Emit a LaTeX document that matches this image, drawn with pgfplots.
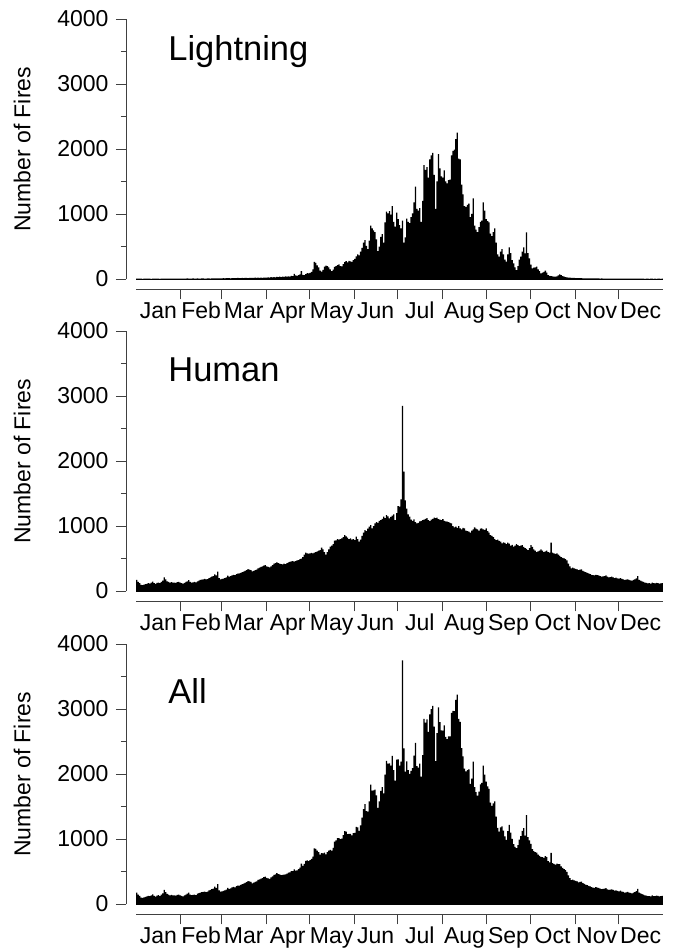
\documentclass[border=0pt]{standalone}
\usepackage{pgfplots}
\pgfplotsset{compat=1.18}
\usepackage{pgfplotstable}
\usepackage{fontspec}
\setmainfont{Liberation Sans}

\pgfplotstableread{
d L H A
1 5 170 175
2 4 140 144
3 6 120 126
4 5 95 100
5 3 90 93
6 4 100 104
7 5 105 110
8 6 110 116
9 4 120 124
10 5 115 120
11 3 130 133
12 4 145 149
13 6 120 126
14 5 110 115
15 4 125 129
16 5 130 135
17 3 120 123
18 4 140 144
19 5 160 165
20 6 210 216
21 4 180 184
22 5 150 155
23 5 140 145
24 4 130 134
25 6 135 141
26 5 128 133
27 4 130 134
28 5 125 130
29 6 135 141
30 5 140 145
31 4 130 134
32 6 120 126
33 5 113 118
34 7 125 132
35 6 140 146
36 8 150 158
37 5 169 174
38 6 140 146
39 7 130 137
40 9 133 142
41 6 140 146
42 5 133 138
43 8 150 158
44 7 160 167
45 6 170 176
46 9 175 184
47 8 180 188
48 7 185 192
49 6 178 184
50 10 182 192
51 8 200 208
52 7 210 217
53 9 220 229
54 8 230 238
55 10 256 266
56 9 240 249
57 8 297 305
58 11 200 211
59 9 180 189
60 10 185 195
61 12 190 202
62 11 200 211
63 13 210 223
64 12 235 247
65 14 220 234
66 11 230 241
67 15 240 255
68 13 250 263
69 12 245 257
70 14 260 274
71 16 266 282
72 13 270 283
73 15 280 295
74 17 290 307
75 14 300 314
76 16 310 326
77 18 320 338
78 15 338 353
79 17 330 347
80 19 320 339
81 16 302 318
82 18 310 328
83 20 320 340
84 17 330 347
85 22 350 372
86 19 360 379
87 21 370 391
88 18 380 398
89 23 390 413
90 20 400 420
91 22 380 402
92 25 370 395
93 21 364 385
94 28 380 408
95 24 400 424
96 30 420 450
97 26 430 456
98 33 441 474
99 28 430 458
100 35 420 455
101 30 415 445
102 38 410 448
103 32 420 452
104 40 415 455
105 36 430 466
106 42 440 482
107 38 450 488
108 50 455 505
109 45 460 505
110 80 451 531
111 55 460 515
112 48 470 518
113 60 477 537
114 70 490 560
115 120 500 620
116 65 520 585
117 58 560 618
118 75 589 664
119 90 580 670
120 85 575 660
121 95 579 674
122 110 585 695
123 150 580 730
124 265 590 855
125 250 600 850
126 210 610 820
127 180 620 800
128 130 630 760
129 115 666 781
130 140 640 780
131 190 600 790
132 205 559 764
133 200 600 800
134 180 640 820
135 150 682 832
136 120 700 820
137 145 720 865
138 185 774 959
139 200 780 980
140 215 800 1015
141 225 790 1015
142 200 800 1000
143 195 810 1005
144 230 830 1060
145 260 861 1121
146 275 840 1115
147 255 820 1075
148 280 800 1080
149 270 810 1080
150 265 790 1055
151 290 800 1090
152 310 784 1094
153 350 836 1186
154 380 800 1180
155 365 759 1124
156 420 790 1210
157 480 850 1330
158 560 900 1460
159 600 938 1538
160 510 920 1430
161 460 960 1420
162 590 990 1580
163 820 1015 1835
164 780 964 1744
165 750 1000 1750
166 720 1040 1760
167 610 1060 1670
168 430 1050 1480
169 500 1080 1580
170 650 1092 1742
171 690 1110 1800
172 560 1143 1703
173 870 1120 1990
174 1035 1169 2204
175 1010 1150 2160
176 1045 1118 2163
177 990 1140 2130
178 1120 1160 2280
179 880 1180 2060
180 805 1092 1897
181 1020 1200 2220
182 920 1307 2227
183 830 1300 2130
184 780 1410 2190
185 900 2850 3750
186 560 1835 2395
187 640 1395 2035
188 930 1266 2196
189 880 1180 2060
190 860 1143 2003
191 950 1100 2050
192 1010 1080 2090
193 1180 1102 2282
194 1420 1060 2480
195 1080 1040 2120
196 1050 1050 2100
197 1090 1070 2160
198 880 1080 1960
199 1200 1092 2292
200 1750 1100 2850
201 1680 1110 2790
202 1720 1120 2840
203 1560 1090 2650
204 1840 1076 2916
205 1900 1100 3000
206 1940 1110 3050
207 1600 1128 2728
208 1080 1120 2200
209 1500 1130 2630
210 1920 1107 3027
211 1700 1100 2800
212 1580 1090 2670
213 1560 1107 2667
214 1670 1080 2750
215 1500 1070 2570
216 1470 1066 2536
217 1520 1060 2580
218 1530 1050 2580
219 1900 1040 2940
220 1970 1000 2970
221 1990 979 2969
222 2150 990 3140
223 2250 970 3220
224 1850 1000 2850
225 1840 964 2804
226 1450 950 2400
227 1300 970 2270
228 1120 964 2084
229 1110 930 2040
230 1140 920 2060
231 1160 913 2073
232 950 900 1850
233 1000 930 1930
234 1240 950 2190
235 820 979 1799
236 760 960 1720
237 720 948 1668
238 800 930 1730
239 880 960 1840
240 900 964 1864
241 1180 950 2130
242 1050 940 1990
243 920 964 1884
244 890 920 1810
245 870 900 1770
246 700 861 1561
247 660 850 1510
248 720 830 1550
249 780 800 1580
250 560 784 1344
251 380 790 1170
252 343 770 1113
253 420 760 1180
254 460 733 1193
255 380 750 1130
256 300 740 1040
257 266 720 986
258 380 743 1123
259 487 730 1217
260 400 700 1100
261 292 710 1002
262 240 682 922
263 180 700 880
264 138 720 858
265 200 707 907
266 300 690 990
267 343 700 1043
268 420 707 1127
269 487 680 1167
270 394 660 1054
271 718 650 1368
272 400 630 1030
273 318 660 978
274 220 707 927
275 164 680 844
276 174 640 814
277 180 620 800
278 190 600 790
279 150 610 760
280 120 620 740
281 87 640 727
282 100 620 720
283 110 600 710
284 128 610 738
285 100 620 720
286 61 600 661
287 50 590 640
288 45 743 788
289 40 590 630
290 38 579 617
291 36 570 606
292 40 580 620
293 55 560 615
294 72 540 612
295 60 520 580
296 45 510 555
297 35 502 537
298 30 490 520
299 25 470 495
300 22 420 442
301 20 380 400
302 18 349 367
303 17 360 377
304 16 349 365
305 15 340 355
306 14 333 347
307 13 320 333
308 12 330 342
309 12 333 345
310 11 310 321
311 11 300 311
312 10 290 300
313 10 280 290
314 9 270 279
315 10 260 270
316 9 250 259
317 8 246 254
318 9 240 249
319 8 250 258
320 8 246 254
321 8 240 248
322 7 230 237
323 8 220 228
324 7 225 232
325 7 230 237
326 6 240 246
327 7 220 227
328 6 210 216
329 6 215 221
330 7 220 227
331 6 210 216
332 5 200 205
333 6 205 211
334 6 195 201
335 5 190 195
336 5 200 205
337 6 185 191
338 5 180 185
339 5 170 175
340 4 175 179
341 5 180 185
342 4 170 174
343 5 165 170
344 5 160 165
345 4 170 174
346 4 180 184
347 5 195 200
348 4 230 234
349 4 170 174
350 5 160 165
351 4 150 154
352 4 140 144
353 3 130 133
354 4 125 129
355 4 118 122
356 3 120 123
357 4 115 119
358 4 130 134
359 3 120 123
360 4 118 122
361 3 125 128
362 4 120 124
363 4 115 119
364 3 118 121
365 4 120 124
}\firedata

\pgfplotsset{
  fireaxis/.style={
    scale only axis, width=537pt, height=270.4pt,
    xmin=-7, xmax=365, ymin=-160, ymax=4000,
    axis x line*=bottom, axis y line*=left,
    axis line style={black!75, line width=0.9pt, -},
    x axis line style={shorten <=10pt},
    y axis line style={shorten <=10pt},
    tick align=outside,
    tick style={black!75, line width=0.9pt},
    major tick length=10pt, minor tick length=5pt,
    ytick={0,1000,2000,3000,4000},
    minor ytick={500,1500,2500,3500},
    xtick={31,59,90,120,151,181,212,243,273,304,334},
    xticklabels={},
    extra x ticks={15.5,45,74.5,105,135.5,166,196.5,227.5,258,288.5,319,349.5},
    extra x tick labels={Jan,Feb,Mar,Apr,May,Jun,Jul,Aug,Sep,Oct,Nov,Dec},
    extra x tick style={tick style={draw=none}},
    ticklabel style={font=\fontsize{23}{23}\selectfont},
    xticklabel style={text height=16.5pt, text depth=4.5pt, yshift=1pt},
    yticklabel style={xshift=-4pt},
    /pgf/number format/assume math mode=true,
    /pgf/number format/1000 sep={},
    scaled y ticks=false,
    ylabel={Number of Fires},
    ylabel style={font=\fontsize{23}{23}\selectfont,
      at={(axis description cs:-0.1935,0.5178)}, anchor=center},
    clip=false,
  },
  firebars/.style={ybar, bar width=0.9, fill=black, draw=none},
}
\tikzset{titlefont/.style={anchor=base west, inner sep=0pt,
    font=\fontsize{34.5}{34.5}\selectfont}}

\begin{document}
\begin{tikzpicture}
\useasboundingbox (0pt,0pt) rectangle (673pt,-949pt);

\begin{axis}[fireaxis, at={(126pt,-289.4pt)}, anchor=south west]
\addplot[firebars] table[x expr=\thisrow{d}-0.5, y=L] {\firedata};
\addplot[black, line width=0.6pt, forget plot] coordinates {(0,0) (365,0)};
\node[titlefont] at (axis cs:22.2,3368) {Lightning};
\end{axis}

\begin{axis}[fireaxis, at={(126pt,-601.4pt)}, anchor=south west]
\addplot[firebars] table[x expr=\thisrow{d}-0.5, y=H] {\firedata};
\addplot[black, line width=0.6pt, forget plot] coordinates {(0,0) (365,0)};
\node[titlefont] at (axis cs:22.2,3219) {Human};
\end{axis}

\begin{axis}[fireaxis, at={(126pt,-914.4pt)}, anchor=south west]
\addplot[firebars] table[x expr=\thisrow{d}-0.5, y=A] {\firedata};
\addplot[black, line width=0.6pt, forget plot] coordinates {(0,0) (365,0)};
\node[titlefont] at (axis cs:22.2,3087) {All};
\end{axis}
\end{tikzpicture}
\end{document}
